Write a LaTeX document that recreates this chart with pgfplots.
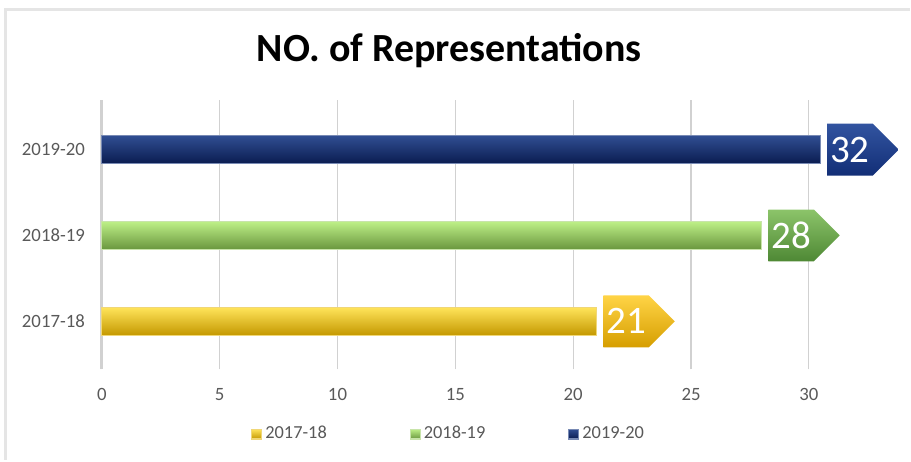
\documentclass[border=0pt]{standalone}
\usepackage{pgfplots}
\pgfplotsset{compat=1.18}
\usepackage{fontspec}
\setmainfont{Carlito}
\usetikzlibrary{shapes.symbols}

% bar colours
\definecolor{navyT}{RGB}{48,78,146}
\definecolor{navyM}{RGB}{14,40,108}
\definecolor{navyB}{RGB}{10,28,80}
\definecolor{navyE}{RGB}{120,138,180}
\definecolor{navyLT}{RGB}{50,84,160}
\definecolor{navyLB}{RGB}{18,46,118}
\definecolor{greenT}{RGB}{190,240,135}
\definecolor{greenM}{RGB}{150,215,88}
\definecolor{greenB}{RGB}{105,150,62}
\definecolor{greenE}{RGB}{200,228,170}
\definecolor{greenLT}{RGB}{140,196,106}
\definecolor{greenLB}{RGB}{78,136,52}
\definecolor{goldT}{RGB}{255,228,90}
\definecolor{goldM}{RGB}{255,200,0}
\definecolor{goldB}{RGB}{196,152,0}
\definecolor{goldE}{RGB}{240,215,120}
\definecolor{goldLT}{RGB}{255,212,70}
\definecolor{goldLB}{RGB}{214,158,0}
\definecolor{ticktext}{RGB}{89,89,89}

\tikzset{
  navyfill/.style={top color=navyT, middle color=navyM, bottom color=navyB},
  greenfill/.style={top color=greenT, middle color=greenM, bottom color=greenB},
  goldfill/.style={top color=goldT, middle color=goldM, bottom color=goldB},
  callout/.style={signal, signal to=east, signal pointer angle=90,
    minimum height=26pt, inner xsep=1.5pt, text=white,
    font=\fontsize{19.5}{21}\selectfont},
}

\begin{document}
\begin{tikzpicture}
\path (0,0) rectangle (455.5pt,230.5pt);
\draw[black!10, line width=1.5pt] (3pt,0) -- (3pt,225.5pt) -- (455.5pt,225.5pt);
\node[font=\bfseries\fontsize{20}{24}\selectfont] at (225pt,205pt) {NO. of Representations};
\begin{axis}[
  at={(51pt,45.5pt)}, anchor=south west,
  scale only axis, width=360pt, height=135pt,
  xbar, bar width=14pt, bar shift=0pt,
  xmin=0, xmax=30.5, ymin=-0.56, ymax=2.58,
  restrict x to domain*=0:30.5,
  clip=false,
  axis lines=left,
  axis line style={-},
  x axis line style={draw=none},
  y axis line style={draw=black!18, line width=1.5pt},
  xtick={0,5,...,30},
  ytick={0,1,2},
  yticklabels={2017-18,2018-19,2019-20},
  major tick length=0pt,
  xmajorgrids,
  grid style={black!18, line width=0.6pt},
  tick label style={font=\fontsize{9.4}{11}\selectfont, text=ticktext},
  xticklabel style={yshift=-6pt},
  yticklabel style={xshift=-5pt},
  /pgf/number format/assume math mode=true,
  nodes near coords,
  point meta=explicit,
  every node near coord/.append style={callout, anchor=west, xshift=3pt},
  legend columns=-1,
  legend style={at={(0.483,-0.24)}, anchor=center, draw=none,
    font=\fontsize{9.2}{10}\selectfont, text=ticktext,
    /tikz/every even column/.append style={column sep=40pt},
    nodes={inner xsep=1.5pt}},
]
\addplot[goldfill, draw=goldE, line width=0.6pt,
  every node near coord/.append style={top color=goldLT, bottom color=goldLB, draw=none},
  legend image code/.code={\fill[goldfill] (0pt,-2.5pt) rectangle (5pt,2.5pt);}]
  coordinates {(21,0) [21]};
\addplot[greenfill, draw=greenE, line width=0.6pt,
  every node near coord/.append style={top color=greenLT, bottom color=greenLB, draw=none},
  legend image code/.code={\fill[greenfill] (0pt,-2.5pt) rectangle (5pt,2.5pt);}]
  coordinates {(28,1) [28]};
\addplot[navyfill, draw=navyE, line width=0.6pt,
  every node near coord/.append style={top color=navyLT, bottom color=navyLB, draw=none},
  legend image code/.code={\fill[navyfill] (0pt,-2.5pt) rectangle (5pt,2.5pt);}]
  coordinates {(32,2) [32]};
\legend{2017-18,2018-19,2019-20}
\end{axis}
\end{tikzpicture}
\end{document}
